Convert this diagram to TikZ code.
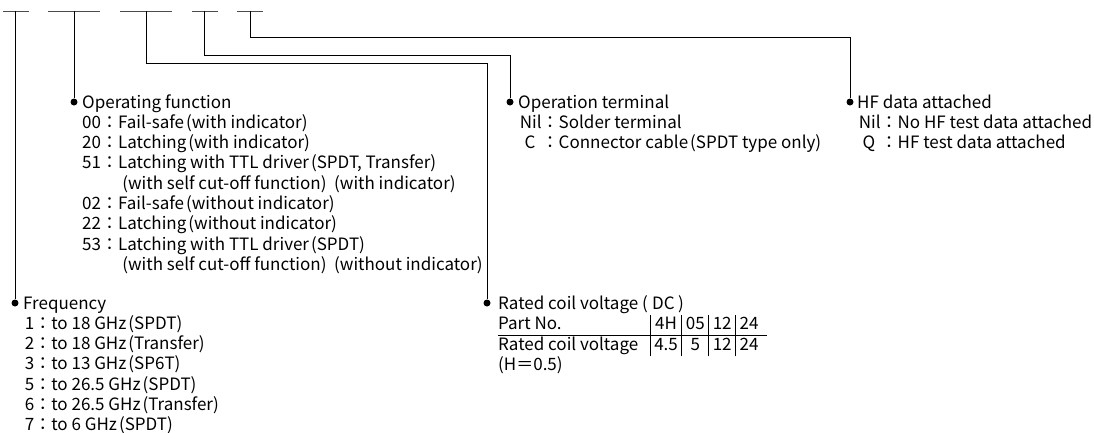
\documentclass[tikz,border=0pt]{standalone}
\usepackage{fontspec}
\setmainfont{Noto Sans CJK JP}
\usetikzlibrary{positioning}
\setlength\arrayrulewidth{0.8pt}
\setlength\tabcolsep{4pt}
\newcommand\lpar{\hspace{0.12em}(}
\newcommand\gap{\hspace{0.45em}}
\begin{document}
\begin{tikzpicture}[x=1pt, y=-1pt, wire/.style={line width=0.9pt, black}, blank/.style={line width=0.9pt, black!70}, dot/.style={circle, fill=black, inner sep=0pt, minimum size=7pt}, block/.style={anchor=base west, inner sep=0pt, font=\fontsize{17}{20.3}\selectfont}]
\useasboundingbox (0,0) rectangle (1094,432);
\draw[blank] (3,11) -- (29,11);
\draw[blank] (48,11) -- (100,11);
\draw[blank] (120,11) -- (172,11);
\draw[blank] (192,11) -- (218,11);
\draw[blank] (237,11) -- (263,11);
\coordinate (t1) at (15,11);
\coordinate (t2) at (74,11);
\coordinate (t3) at (146,11);
\coordinate (t4) at (204,11);
\coordinate (t5) at (250,11);
\node[dot] (freqdot) at (15,303) {};
\node[dot] (funcdot) at (74,102) {};
\node[dot] (voltdot) at (487,303) {};
\node[dot] (termdot) at (510,102) {};
\node[dot] (hfdot) at (850,102) {};
\draw[wire] (t1) -- (freqdot);
\draw[wire] (t2) -- (funcdot);
\draw[wire] (t3) -- ++(0,52) -| (voltdot);
\draw[wire] (t4) -- ++(0,44) -| (termdot);
\draw[wire] (t5) -- ++(0,26) -| (hfdot);
\node[block] (func) at ([xshift=8pt, yshift=-6pt]funcdot.center) {\begin{tabular}[t]{@{}l@{}l@{}l@{}}
\multicolumn{3}{@{}l@{}}{Operating function}\\
00&：&Fail-safe\lpar with indicator)\\
20&：&Latching\lpar with indicator)\\
51&：&Latching with TTL driver\lpar SPDT, Transfer)\\
&&\hspace{0.25em}(with self cut-off function)\gap(with indicator)\\
02&：&Fail-safe\lpar without indicator)\\
22&：&Latching\lpar without indicator)\\
53&：&Latching with TTL driver\lpar SPDT)\\
&&\hspace{0.25em}(with self cut-off function)\gap(without indicator)
\end{tabular}};
\node[block] (freq) at ([xshift=8pt, yshift=-6pt]freqdot.center) {\begin{tabular}[t]{@{}l@{}l@{}l@{}}
\multicolumn{3}{@{}l@{}}{Frequency}\\
\hspace{0.1em}1&：&to 18 GHz\lpar SPDT)\\
\hspace{0.1em}2&：&to 18 GHz\lpar Transfer)\\
\hspace{0.1em}3&：&to 13 GHz\lpar SP6T)\\
\hspace{0.1em}5&：&to 26.5 GHz\lpar SPDT)\\
\hspace{0.1em}6&：&to 26.5 GHz\lpar Transfer)\\
\hspace{0.1em}7&：&to 6 GHz\lpar SPDT)
\end{tabular}};
\node[block] (term) at ([xshift=8pt, yshift=-6pt]termdot.center) {\begin{tabular}[t]{@{}c@{}l@{}}
\multicolumn{2}{@{}l@{}}{Operation terminal}\\
\hspace{0.1em}Nil&：Solder terminal\\
C&：Connector cable\lpar SPDT type only)
\end{tabular}};
\node[block] (hf) at ([xshift=7pt, yshift=-6pt]hfdot.center) {\begin{tabular}[t]{@{}c@{}l@{}}
\multicolumn{2}{@{}l@{}}{HF data attached}\\
\hspace{0.1em}Nil&：No HF test data attached\\
Q&：HF test data attached
\end{tabular}};
\node[block] (volt) at ([xshift=11pt, yshift=-6pt]voltdot.center) {\begin{tabular}[t]{@{}l@{\hspace{12pt}}|c|c|c|c@{\hspace{9pt}}}
\multicolumn{5}{@{}l@{}}{Rated coil voltage (\hspace{0.25em}DC\hspace{0.2em})}\\
Part No.&4H&05&12&24\\\hline
Rated coil voltage&4.5&5&12&24\\
\multicolumn{5}{@{}l@{}}{(H＝0.5)}
\end{tabular}};
\end{tikzpicture}
\end{document}
